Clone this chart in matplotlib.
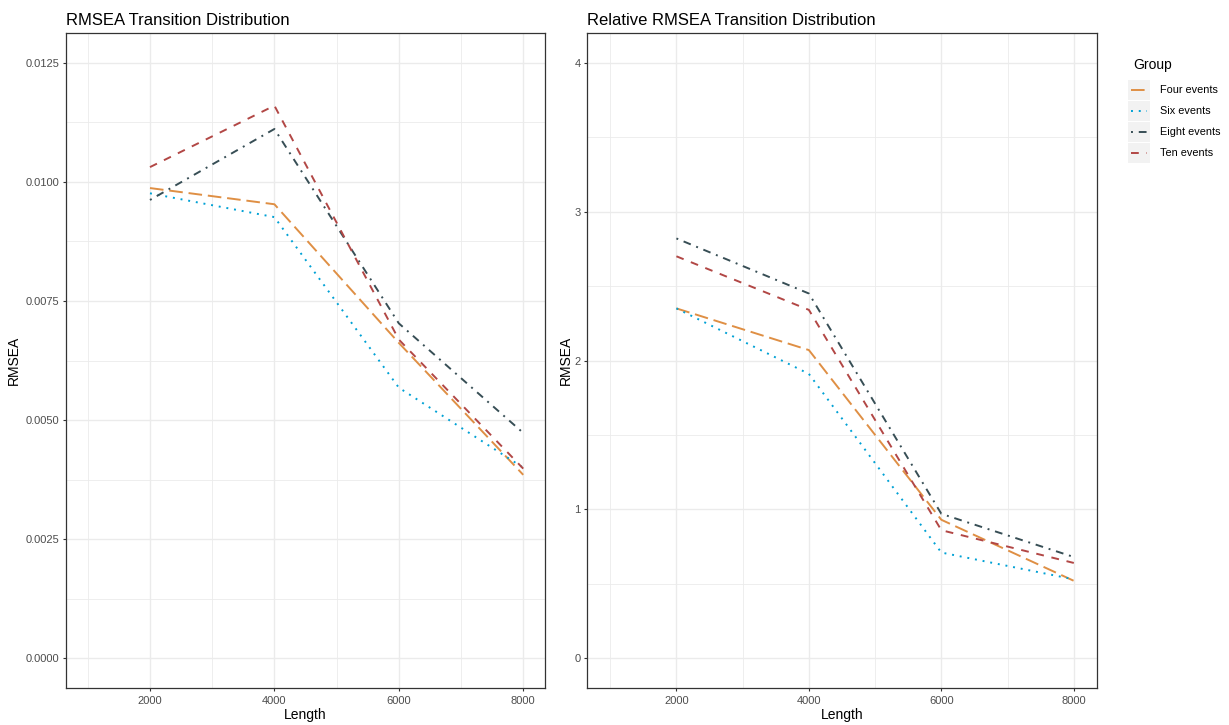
import matplotlib
matplotlib.use("Agg")
import matplotlib.pyplot as plt
from matplotlib.lines import Line2D
from matplotlib.patches import Rectangle

plt.rcParams['font.family'] = ['Liberation Sans', 'DejaVu Sans']

lengths = [2000, 4000, 6000, 8000]
groups = ["Four events", "Six events", "Eight events", "Ten events"]
colors = ["#DF8F44", "#00A1D5", "#374E55", "#B24745"]
dashes = [(7, 3), (1, 3), (1, 3, 4, 3), (4, 4)]

rmsea_four = [0.00987, 0.00953, 0.00662, 0.00385]
rmsea_six = [0.00976, 0.00926, 0.00568, 0.00400]
rmsea_eight = [0.00962, 0.01111, 0.00703, 0.00473]
rmsea_ten = [0.01031, 0.01160, 0.00669, 0.00398]

rel_four = [2.35, 2.07, 0.93, 0.52]
rel_six = [2.35, 1.91, 0.71, 0.53]
rel_eight = [2.82, 2.45, 0.97, 0.68]
rel_ten = [2.70, 2.34, 0.86, 0.64]

left_series = [rmsea_four, rmsea_six, rmsea_eight, rmsea_ten]
right_series = [rel_four, rel_six, rel_eight, rel_ten]

W, H = 1229, 725
fig = plt.figure(figsize=(W / 100, H / 100), dpi=100)


def px_axes(x0, y0, x1, y1):
    return fig.add_axes([x0 / W, 1 - y1 / H, (x1 - x0) / W, (y1 - y0) / H])


ax1 = px_axes(66, 33, 545, 688)
ax2 = px_axes(587, 33, 1097, 688)

grid_col = "#EBEBEB"


def style(ax, yticks, ylabels, yminor, ylim, title, ylabx):
    ax.set_xlim(650, 8350)
    ax.set_ylim(*ylim)
    ax.set_xticks(lengths)
    ax.set_xticklabels([str(v) for v in lengths])
    ax.set_xticks([1000, 3000, 5000, 7000], minor=True)
    ax.set_yticks(yticks)
    ax.set_yticklabels(ylabels)
    ax.set_yticks(yminor, minor=True)
    ax.grid(True, which="major", color=grid_col, linewidth=1.0, zorder=0)
    ax.grid(True, which="minor", color=grid_col, linewidth=0.6, zorder=0)
    ax.set_axisbelow(True)
    ax.tick_params(which="major", length=2.5, width=0.8, color="#333333",
                   labelsize=8, labelcolor="#4D4D4D", pad=2)
    ax.tick_params(axis="x", which="major", pad=3.5)
    ax.tick_params(which="minor", length=0)
    for s in ax.spines.values():
        s.set_color("#333333")
        s.set_linewidth(0.9)
    ax.set_xlabel("Length", fontsize=10, color="black", labelpad=1.5)
    ax.set_ylabel("RMSEA", fontsize=10, color="black")
    ax.yaxis.set_label_coords(ylabx, 0.5)
    ax.set_title(title, loc="left", fontsize=12, pad=6)


for ax, series in [(ax1, left_series), (ax2, right_series)]:
    for vals, c, d in zip(series, colors, dashes):
        ax.plot(lengths, vals, color=c, linewidth=1.4, dashes=d, zorder=3)

style(ax1, [0, 0.0025, 0.005, 0.0075, 0.01, 0.0125],
      ["0.0000", "0.0025", "0.0050", "0.0075", "0.0100", "0.0125"],
      [0.00125, 0.00375, 0.00625, 0.00875, 0.01125],
      (-0.000625, 0.013125), "RMSEA Transition Distribution",
      (14 - 66 + 7) / (545 - 66))
style(ax2, [0, 1, 2, 3, 4], ["0", "1", "2", "3", "4"],
      [0.5, 1.5, 2.5, 3.5], (-0.2, 4.2), "Relative RMSEA Transition Distribution",
      (566 - 587 + 7) / (1097 - 587))

# legend drawn in pixel coordinates
lax = px_axes(1110, 40, 1229, 180)
lax.set_xlim(1110, 1229)
lax.set_ylim(180, 40)
lax.axis("off")
lax.text(1133, 65, "Group", fontsize=10, va="center", ha="left")
rows = [90, 111, 132, 153]
for y, g, c, d in zip(rows, groups, colors, dashes):
    lax.add_patch(Rectangle((1128, y - 10), 22, 20, facecolor="#F2F2F2", edgecolor="none"))
    lax.add_line(Line2D([1131, 1147], [y, y], color=c, linewidth=1.4, dashes=d))
    lax.text(1160, y, g, fontsize=7.8, va="center", ha="left")

fig.savefig("out.png", dpi=100, facecolor="white")
